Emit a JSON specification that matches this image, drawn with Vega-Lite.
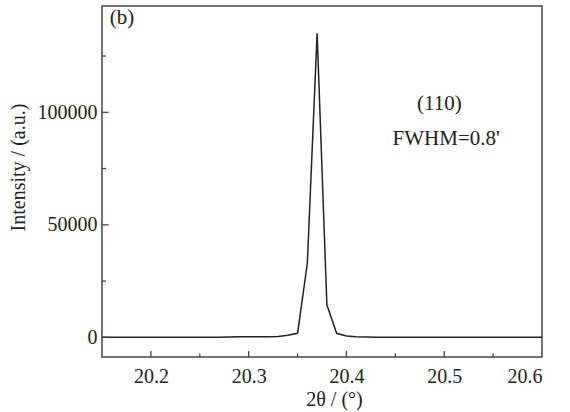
{
  "$schema": "https://vega.github.io/schema/vega-lite/v6.json",
  "autosize": "none",
  "width": 440,
  "height": 351,
  "padding": {"left": 102, "top": 6, "right": 28, "bottom": 55},
  "background": "white",
  "config": {
    "view": {"stroke": "#444444", "strokeWidth": 1.5},
    "font": "Liberation Serif",
    "axis": {
      "grid": false,
      "domain": false,
      "labelFont": "Liberation Serif",
      "titleFont": "Liberation Serif",
      "labelColor": "#222222",
      "titleColor": "#222222",
      "titleFontWeight": "normal"
    }
  },
  "data": {
    "values": [
      {"theta2": 20.15, "intensity": 0},
      {"theta2": 20.16, "intensity": 0},
      {"theta2": 20.17, "intensity": 0},
      {"theta2": 20.18, "intensity": 0},
      {"theta2": 20.19, "intensity": 0},
      {"theta2": 20.20, "intensity": 0},
      {"theta2": 20.21, "intensity": 0},
      {"theta2": 20.22, "intensity": 0},
      {"theta2": 20.23, "intensity": 0},
      {"theta2": 20.24, "intensity": 0},
      {"theta2": 20.25, "intensity": 0},
      {"theta2": 20.26, "intensity": 0},
      {"theta2": 20.27, "intensity": 20},
      {"theta2": 20.28, "intensity": 100},
      {"theta2": 20.29, "intensity": 250},
      {"theta2": 20.30, "intensity": 300},
      {"theta2": 20.31, "intensity": 250},
      {"theta2": 20.32, "intensity": 200},
      {"theta2": 20.33, "intensity": 400},
      {"theta2": 20.34, "intensity": 900},
      {"theta2": 20.35, "intensity": 1800},
      {"theta2": 20.36, "intensity": 32900},
      {"theta2": 20.37, "intensity": 135100},
      {"theta2": 20.38, "intensity": 14400},
      {"theta2": 20.39, "intensity": 1800},
      {"theta2": 20.40, "intensity": 600},
      {"theta2": 20.41, "intensity": 200},
      {"theta2": 20.42, "intensity": 100},
      {"theta2": 20.43, "intensity": 80},
      {"theta2": 20.44, "intensity": 50},
      {"theta2": 20.45, "intensity": 20},
      {"theta2": 20.46, "intensity": 0},
      {"theta2": 20.47, "intensity": 0},
      {"theta2": 20.48, "intensity": 0},
      {"theta2": 20.49, "intensity": 0},
      {"theta2": 20.50, "intensity": 0},
      {"theta2": 20.51, "intensity": 0},
      {"theta2": 20.52, "intensity": 0},
      {"theta2": 20.53, "intensity": 0},
      {"theta2": 20.54, "intensity": 0},
      {"theta2": 20.55, "intensity": 0},
      {"theta2": 20.56, "intensity": 0},
      {"theta2": 20.57, "intensity": 0},
      {"theta2": 20.58, "intensity": 0},
      {"theta2": 20.59, "intensity": 0},
      {"theta2": 20.60, "intensity": 0}
    ]
  },
  "layer": [
    {
      "mark": {"type": "line", "color": "#222222", "strokeWidth": 1.5, "clip": true},
      "encoding": {
        "x": {
          "field": "theta2",
          "type": "quantitative",
          "scale": {"domain": [20.15, 20.6], "nice": false, "zero": false},
          "axis": {
            "title": "2θ / (°)",
            "titleFontSize": 20,
            "titleX": 232,
            "titleY": 48,
            "titleBaseline": "alphabetic",
            "labelFontSize": 20,
            "labelPadding": 9,
            "ticks": false,
            "tickSize": 0,
            "values": [20.2, 20.3, 20.4, 20.5, 20.6],
            "format": ".1f"
          }
        },
        "y": {
          "field": "intensity",
          "type": "quantitative",
          "scale": {"domain": [-8750, 147250], "nice": false, "zero": false},
          "axis": {
            "title": "Intensity / (a.u.)",
            "titleFontSize": 20,
            "titleX": -84,
            "titleY": 161,
            "titleAngle": -90,
            "titleBaseline": "middle",
            "titleAlign": "center",
            "labelFontSize": 20,
            "labelPadding": 5,
            "ticks": false,
            "tickSize": 0,
            "values": [0, 50000, 100000],
            "format": "d"
          }
        }
      }
    },
    {
      "data": {
        "values": [
          {"pos": 20.2, "major": true},
          {"pos": 20.25, "major": false},
          {"pos": 20.3, "major": true},
          {"pos": 20.35, "major": false},
          {"pos": 20.4, "major": true},
          {"pos": 20.45, "major": false},
          {"pos": 20.5, "major": true},
          {"pos": 20.55, "major": false}
        ]
      },
      "mark": {"type": "tick", "orient": "vertical", "color": "#444444", "thickness": 1.3, "clip": true, "opacity": 1},
      "encoding": {
        "x": {"field": "pos", "type": "quantitative"},
        "y": {"datum": -8750},
        "size": {"condition": {"test": "datum.major", "value": 12}, "value": 7}
      }
    },
    {
      "data": {
        "values": [
          {"pos": 0, "major": true},
          {"pos": 25000, "major": false},
          {"pos": 50000, "major": true},
          {"pos": 75000, "major": false},
          {"pos": 100000, "major": true},
          {"pos": 125000, "major": false}
        ]
      },
      "mark": {"type": "tick", "orient": "horizontal", "color": "#444444", "thickness": 1.3, "clip": true, "opacity": 1},
      "encoding": {
        "y": {"field": "pos", "type": "quantitative"},
        "x": {"datum": 20.15},
        "size": {"condition": {"test": "datum.major", "value": 13}, "value": 8}
      }
    },
    {
      "data": {"values": [{"label": "(110)"}]},
      "mark": {"type": "text", "font": "Liberation Serif", "fontSize": 21, "color": "#222222", "align": "center", "baseline": "middle"},
      "encoding": {"text": {"field": "label"}, "x": {"datum": 20.495}, "y": {"datum": 103700}}
    },
    {
      "data": {"values": [{"label": "FWHM=0.8'"}]},
      "mark": {"type": "text", "font": "Liberation Serif", "fontSize": 21, "color": "#222222", "align": "center", "baseline": "middle"},
      "encoding": {"text": {"field": "label"}, "x": {"datum": 20.502}, "y": {"datum": 88100}}
    },
    {
      "data": {"values": [{"label": "(b)"}]},
      "mark": {"type": "text", "font": "Liberation Serif", "fontSize": 21, "color": "#222222", "align": "left", "baseline": "middle"},
      "encoding": {"text": {"field": "label"}, "x": {"datum": 20.158}, "y": {"datum": 141900}}
    }
  ]
}
